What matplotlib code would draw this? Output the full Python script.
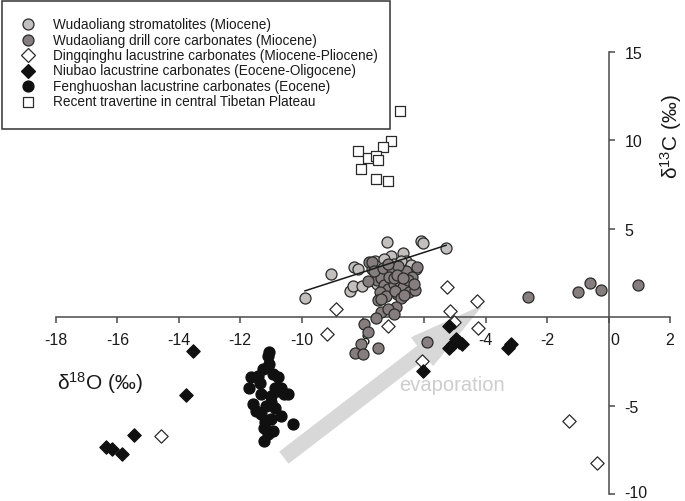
import matplotlib
matplotlib.use("Agg")
import matplotlib.pyplot as plt
import matplotlib.transforms as mtrans
from matplotlib.patches import FancyArrowPatch, ArrowStyle, Rectangle
from matplotlib.lines import Line2D

plt.rcParams['font.family'] = ['Liberation Sans', 'DejaVu Sans']
plt.rcParams['mathtext.fontset'] = 'custom'
plt.rcParams['mathtext.rm'] = 'Liberation Sans'
plt.rcParams['mathtext.it'] = 'Liberation Sans:italic'
plt.rcParams['mathtext.default'] = 'regular'
plt.rcParams['axes.unicode_minus'] = False

# ---------------- data ----------------
strom_x = [-9.89, -9.04, -8.28, -8.17, -7.22, -6.11, -6.06, -5.29, -8.42, -8.34, -8.02,
           -6.71, -6.60, -7.09, -6.28, -7.60, -7.45, -7.30, -7.00, -6.85, -6.50, -6.90,
           -7.70, -7.40, -7.15, -6.75, -6.45, -7.55, -7.25]
strom_y = [1.11, 2.43, 2.85, 2.72, 4.23, 4.30, 4.17, 3.89, 1.49, 1.77, 1.77,
           3.64, 3.19, 3.45, 2.72, 3.20, 2.90, 3.30, 3.00, 2.60, 2.30, 2.10,
           2.70, 2.40, 2.50, 3.20, 2.95, 1.90, 1.60]

trend_x = [-9.89, -5.29]
trend_y = [1.49, 4.07]

drill_x = [-7.80, -7.70, -7.55, -7.40, -7.30, -7.20, -7.10, -7.00, -6.90, -6.80, -6.70,
           -6.60, -6.50, -6.40, -6.30, -6.25, -7.65, -7.45, -7.35, -7.25, -7.05, -6.95,
           -6.85, -6.75, -6.55, -7.50, -7.15, -6.65, -7.85, -7.20, -7.00, -6.90, -6.70,
           -6.35, -7.41, -7.41, -7.58, -6.93, -7.20, -6.98, -7.96, -7.83, -8.07, -8.26,
           -8.01, -7.52, -5.92, -2.64, -0.99, -0.59, -0.26, 0.97]
drill_y = [3.10, 3.15, 2.10, 2.20, 1.80, 1.60, 2.40, 1.90, 1.30, 2.00, 1.70,
           2.60, 1.40, 2.30, 1.55, 2.85, 2.60, 1.40, 2.80, 1.20, 2.70, 1.50,
           2.90, 1.10, 2.10, 1.00, 2.30, 1.25, 2.06, 3.00, 2.20, 2.40, 2.20,
           1.85, 1.02, 0.27, -0.06, 0.55, 0.45, 0.17, -0.40, -0.85, -1.53, -2.00,
           -2.09, -1.72, -1.43, 1.17, 1.43, 1.92, 1.55, 1.81]

ding_x = [-14.57, -9.17, -8.88, -7.18, -6.08, -5.28, -5.16, -5.04, -4.28, -4.27, -1.29, -0.39]
ding_y = [-6.72, -0.96, 0.49, -0.50, -2.47, 1.72, 0.34, -0.26, 0.90, -0.63, -5.87, -8.26]

niu_x = [-13.54, -13.76, -15.46, -16.36, -16.17, -15.85, -5.19, -6.06, -5.19, -4.98,
         -4.87, -4.76, -5.08, -3.29, -3.19]
niu_y = [-1.91, -4.41, -6.68, -7.32, -7.43, -7.75, -0.49, -3.04, -1.72, -1.25,
         -1.43, -1.53, -1.53, -1.72, -1.53]

feng_x = [-11.07, -11.10, -11.05, -10.94, -11.64, -11.37, -11.70, -10.78, -10.67, -11.32,
          -11.59, -10.99, -10.56, -10.45, -11.15, -10.88, -11.32, -10.99, -10.67, -10.29,
          -11.21, -10.94, -11.21, -11.48, -10.88, -11.26, -11.43, -11.00, -11.10, -10.80,
          -11.20]
feng_y = [-1.95, -2.19, -2.66, -3.23, -3.41, -3.70, -3.98, -3.41, -3.98, -4.36,
          -4.92, -4.45, -4.36, -4.36, -5.02, -5.11, -5.49, -5.77, -5.59, -6.06,
          -6.24, -6.43, -7.00, -5.30, -3.98, -2.94, -3.32, -4.80, -6.60, -4.20,
          -5.90]

trav_x = [-6.79, -7.09, -7.36, -8.17, -7.85, -7.58, -7.50, -8.07, -7.58, -7.20]
trav_y = [11.68, 9.98, 9.60, 9.41, 8.98, 9.13, 8.90, 8.41, 7.81, 7.71]

arrow_start = (-10.56, -7.92)
arrow_end = (-4.16, 0.60)

labels = ["Wudaoliang stromatolites (Miocene)",
          "Wudaoliang drill core carbonates (Miocene)",
          "Dingqinghu lacustrine carbonates (Miocene-Pliocene)",
          "Niubao lacustrine carbonates (Eocene-Oligocene)",
          "Fenghuoshan lacustrine carbonates (Eocene)",
          "Recent travertine in central Tibetan Plateau"]

xticks = [-18, -16, -14, -12, -10, -8, -6, -4, -2, 0, 2]
xtick_labels = ["-18", "-16", "-14", "-12", "-10", "-8", "-6", "-4", "-2", "0", "2"]
yticks = [-10, -5, 5, 10, 15]
ytick_labels = ["-10", "-5", "5", "10", "15"]

# ---------------- figure ----------------
W, H = 685, 502
fig = plt.figure(figsize=(W/100, H/100), dpi=100)
ax = fig.add_axes([56/W, 7/H, 614/W, 442/H])
ax.set_xlim(-18, 2)
ax.set_ylim(-10, 15)

spine_c = '#4a4a4a'
for s in ['top', 'left']:
    ax.spines[s].set_visible(False)
ax.spines['bottom'].set_position(('data', 0))
ax.spines['right'].set_position(('data', 0))
for s in ['bottom', 'right']:
    ax.spines[s].set_color(spine_c)
    ax.spines[s].set_linewidth(1.1)
ax.yaxis.tick_right()
ax.set_xticks(xticks, labels=xtick_labels)
ax.set_yticks(yticks, labels=ytick_labels)
ax.tick_params(axis='x', direction='out', length=4, width=1.1, color=spine_c,
               labelsize=11.5, pad=7, labelcolor='#1a1a1a')
ax.tick_params(axis='y', direction='out', length=4.5, width=1.1, color=spine_c,
               labelsize=11.5, pad=7, labelcolor='#1a1a1a')
for lbl in ax.get_xticklabels():
    if lbl.get_text() == '0':
        lbl.set_transform(lbl.get_transform() + mtrans.ScaledTranslation(6/100, 0, fig.dpi_scale_trans))
for lbl in ax.get_yticklabels():
    if lbl.get_text() == '-10':
        lbl.set_transform(lbl.get_transform() + mtrans.ScaledTranslation(0, 2.5/100, fig.dpi_scale_trans))

# arrow
arr = FancyArrowPatch(posA=arrow_start, posB=arrow_end,
                      arrowstyle=ArrowStyle.Simple(head_length=53, head_width=25, tail_width=10),
                      mutation_scale=1, color='#d8d8d8', shrinkA=0, shrinkB=0, zorder=2)
ax.add_patch(arr)
ax.text(-5.11, -3.79, "evaporation", color='#cdcdcd', fontsize=14.5, ha='center', va='center', zorder=2)

edge = '#2a2a2a'
c_strom = '#c3bfbf'
c_drill = '#867e7e'
c_black = '#101010'
ms_c = 63
ms_d = 46
ms_s = 45
lw = 0.9

ax.plot(trend_x, trend_y, color='#1a1a1a', lw=1.1, zorder=4)
ax.scatter(strom_x, strom_y, s=ms_c, marker='o', facecolor=c_strom, edgecolor=edge, linewidth=lw, zorder=3)
ax.scatter(drill_x, drill_y, s=ms_c, marker='o', facecolor=c_drill, edgecolor=edge, linewidth=lw, zorder=3.2)
ax.scatter(ding_x, ding_y, s=ms_d, marker='D', facecolor='white', edgecolor=edge, linewidth=lw, zorder=3.3)
ax.scatter(niu_x, niu_y, s=ms_d, marker='D', facecolor=c_black, edgecolor=c_black, linewidth=lw, zorder=3.4)
ax.scatter(feng_x, feng_y, s=ms_c, marker='o', facecolor=c_black, edgecolor=c_black, linewidth=lw, zorder=3.4)
ax.scatter(trav_x, trav_y, s=ms_s, marker='s', facecolor='white', edgecolor=edge, linewidth=lw, zorder=3.3)

# axis labels
fig.text(57/W, 1 - 383/H, r"δ$^{18}$O (‰)", fontsize=15, ha='left', va='center', color='#1a1a1a')
fig.text(671/W, 1 - 137/H, r"δ$^{13}$C (‰)", fontsize=15, ha='center', va='center',
         rotation=90, color='#1a1a1a')

# legend (drawn manually in figure pixel space)
leg_styles = [
    dict(marker='o', markersize=7.9, markerfacecolor=c_strom, markeredgecolor=edge),
    dict(marker='o', markersize=7.9, markerfacecolor=c_drill, markeredgecolor=edge),
    dict(marker='D', markersize=6.8, markerfacecolor='white', markeredgecolor=edge),
    dict(marker='D', markersize=6.8, markerfacecolor=c_black, markeredgecolor=c_black),
    dict(marker='o', markersize=7.9, markerfacecolor=c_black, markeredgecolor=c_black),
    dict(marker='s', markersize=6.7, markerfacecolor='white', markeredgecolor=edge),
]
frame = Rectangle((2/W, 1 - 130/H), 388/W, 128/H, transform=fig.transFigure,
                  facecolor='white', edgecolor='#333333', linewidth=1.1, zorder=10)
fig.add_artist(frame)
row0, drow = 25.0, 15.5
for i, (lab, st) in enumerate(zip(labels, leg_styles)):
    yy = 1 - (row0 + i*drow)/H
    fig.add_artist(Line2D([28/W], [yy], transform=fig.transFigure, ls='none',
                          markeredgewidth=lw, zorder=11, **st))
    fig.text(53/W, yy, lab, fontsize=9.8, ha='left', va='center', color='#1a1a1a', zorder=11)

fig.savefig("out.png", dpi=100)
